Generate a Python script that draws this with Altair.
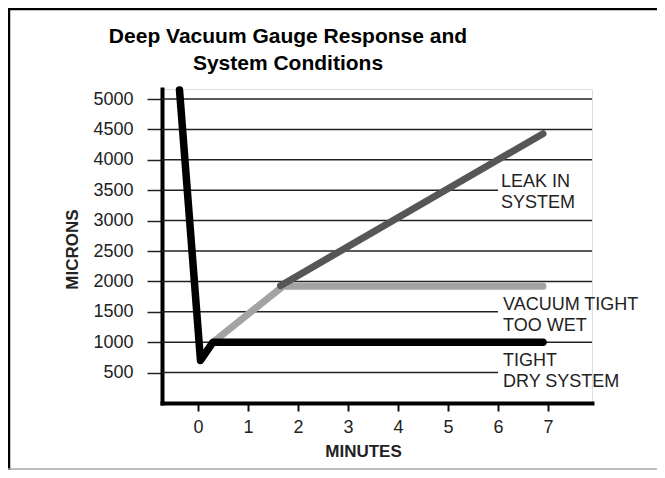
import altair as alt
import pandas as pd

# ---- data ----
title_lines = ["Deep Vacuum Gauge Response and", "System Conditions"]
x_title = "MINUTES"
y_title = "MICRONS"
x_ticks = [0, 1, 2, 3, 4, 5, 6, 7]
y_ticks = [500, 1000, 1500, 2000, 2500, 3000, 3500, 4000, 4500, 5000]
x_domain = [-0.72, 7.88]
y_domain = [0, 5165]

grid_microns = [500, 1000, 1500, 2000, 2500, 3000, 3500, 4000, 4500, 5000]
grid_end_minutes = [6.0, 7.88, 6.0, 7.88, 7.88, 7.88, 6.0, 7.88, 7.88, 7.88]

tight_minutes = [-0.37, 0.05, 0.3, 6.9]
tight_microns = [5150, 700, 1000, 1000]
wet_minutes = [0.3, 1.7, 6.9]
wet_microns = [1000, 1920, 1920]
leak_minutes = [1.65, 6.9]
leak_microns = [1930, 4430]

label_texts = ["LEAK IN\nSYSTEM", "VACUUM TIGHT\nTOO WET", "TIGHT\nDRY SYSTEM"]
label_minutes = [6.06, 6.1, 6.1]
label_microns = [3560, 1531, 609]

FONT = "Liberation Sans"

xs = alt.Scale(domain=x_domain, nice=False, zero=False)
ys = alt.Scale(domain=y_domain, nice=False, zero=False)

x_axis = alt.Axis(values=x_ticks, title=x_title, grid=False, format="d", labelOverlap=False,
                  domainColor="black", domainWidth=4, domainCap="square",
                  tickColor="#111", tickWidth=2, tickSize=8,
                  labelFont=FONT, labelFontSize=18, labelColor="#222", labelPadding=7,
                  titleFont=FONT, titleFontSize=17, titleFontWeight="bold", titleColor="#222",
                  titleX=201, titleY=53, titleBaseline="alphabetic", titleAlign="center")
y_axis = alt.Axis(values=y_ticks, title=y_title, grid=False, format="d", labelOverlap=False,
                  domainColor="black", domainWidth=4, domainCap="square",
                  tickColor="#222", tickWidth=1.5, tickSize=15,
                  labelFont=FONT, labelFontSize=18, labelColor="#222", labelPadding=14,
                  titleFont=FONT, titleFontSize=17, titleFontWeight="bold", titleColor="#222",
                  titleX=-90, titleY=160, titleBaseline="middle", titleAlign="center")


def X(field):
    return alt.X(field, scale=xs, axis=x_axis, title=x_title)


def Y(field):
    return alt.Y(field, scale=ys, axis=y_axis, title=y_title)


grid_df = pd.DataFrame({"start": [x_domain[0]] * len(grid_microns),
                        "end": grid_end_minutes, "y": grid_microns})
grid = alt.Chart(grid_df).mark_rule(color="#222", strokeWidth=1.5).encode(
    x=X("start:Q"), x2="end:Q", y=Y("y:Q"))


def series(mins, mics, color, width):
    df = pd.DataFrame({"m": mins, "v": mics, "o": list(range(len(mins)))})
    return alt.Chart(df).mark_line(color=color, strokeWidth=width,
                                   strokeCap="round", strokeJoin="round").encode(
        x=X("m:Q"), y=Y("v:Q"), order="o:Q")


wet = series(wet_minutes, wet_microns, "#a3a3a3", 7)
leak = series(leak_minutes, leak_microns, "#565656", 7)
tight = series(tight_minutes, tight_microns, "#000000", 7.5)

lab_df = pd.DataFrame({"m": label_minutes, "v": label_microns, "t": label_texts})
labels = alt.Chart(lab_df).mark_text(align="left", baseline="alphabetic", lineBreak="\n",
                                     lineHeight=21, font=FONT, fontSize=18,
                                     color="#222").encode(
    x=X("m:Q"), y=Y("v:Q"), text="t:N")

one = pd.DataFrame({"a": [0]})
top_border = alt.Chart(one).mark_rule(color="black", strokeWidth=2.5).encode(
    x=alt.value(-154), x2=alt.value(495), y=alt.value(-80))
left_border = alt.Chart(one).mark_rule(color="black", strokeWidth=2.5).encode(
    x=alt.value(-153), y=alt.value(-81), y2=alt.value(381))
bottom_border = alt.Chart(one).mark_rule(color="#aaaaaa", strokeWidth=1.5).encode(
    x=alt.value(-154), x2=alt.value(495), y=alt.value(380))

chart = alt.layer(grid, wet, leak, tight, labels, top_border, left_border, bottom_border).properties(
    width=430, height=314,
    autosize="none",
    padding={"left": 154, "top": 81, "right": 65, "bottom": 67},
    title=alt.Title(text=title_lines, font=FONT, fontSize=21, fontWeight="bold",
                    color="black", anchor="middle", dx=-89, lineHeight=27, offset=12,
                    baseline="bottom", dy=100),
).configure_view(strokeWidth=0).configure_axis(labelOverlap=False).configure(background="white")

chart.save("out.html", embed_options={"renderer": "svg", "actions": False})
